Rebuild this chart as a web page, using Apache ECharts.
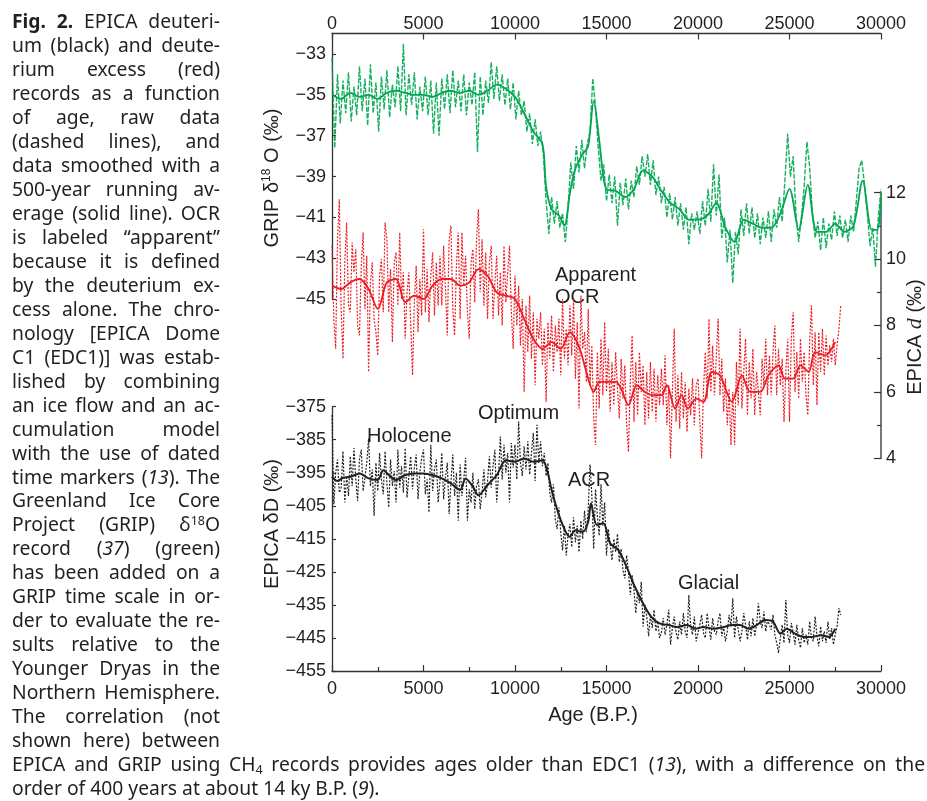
<!DOCTYPE html>
<html>
<head>
<meta charset="utf-8">
<script src="https://cdn.jsdelivr.net/npm/echarts@6/dist/echarts.min.js"></script>
<style>
  html, body { margin: 0; padding: 0; background: #fff; }
  #chart { width: 927px; height: 801px; }
</style>
</head>
<body>
<div id="chart"></div>
<script>
// ---- data ----

// GRIP d18O, raw record sampled every 150 yr from 0 to 30000
const GREEN_STEP = 150
const GREEN_RAW = [
  -33.2, -37.6, -34.0, -36.4, -34.3, -35.9, -33.9, -36.3, -34.6, -36.0,
  -33.6, -35.8, -34.2, -36.5, -33.5, -35.9, -34.4, -36.8, -34.1, -35.7,
  -33.8, -36.1, -34.5, -35.6, -33.6, -35.8, -32.5, -36.0, -34.0, -35.5,
  -33.9, -36.2, -34.6, -35.8, -34.1, -36.0, -34.3, -36.9, -34.4, -37.0,
  -34.2, -35.7, -34.0, -35.9, -33.8, -35.6, -34.3, -35.8, -34.0, -36.0,
  -34.4, -35.5, -33.9, -37.8, -34.1, -36.0, -34.3, -35.4, -33.4, -35.2,
  -33.6, -35.3, -34.0, -35.5, -34.2, -35.7, -34.4, -36.2, -34.8, -36.0,
  -35.3, -36.8, -35.9, -37.4, -36.2, -37.5, -36.8, -37.9, -40.2, -41.8,
  -40.0, -41.3, -40.2, -41.5, -40.8, -42.2, -40.5, -38.3, -39.6, -37.5,
  -38.8, -37.2, -38.6, -37.4, -36.8, -34.2, -35.6, -37.6, -39.2, -38.4,
  -40.2, -38.9, -40.3, -39.0, -41.4, -39.3, -40.4, -39.1, -40.6, -39.2,
  -40.0, -38.5, -39.4, -38.0, -39.0, -37.9, -39.4, -38.2, -39.9, -39.0,
  -40.3, -39.5, -41.0, -39.8, -41.1, -40.0, -41.4, -40.3, -41.6, -40.5,
  -42.3, -40.8, -41.6, -40.7, -41.8, -40.2, -41.4, -39.6, -41.2, -38.4,
  -40.9, -38.9, -42.0, -41.0, -43.2, -41.6, -44.2, -41.7, -42.8, -40.6,
  -41.9, -40.3, -41.8, -40.5, -42.0, -40.8, -42.3, -41.0, -42.0, -40.7,
  -42.2, -40.6, -41.5, -40.0, -41.2, -39.2, -36.9, -39.0, -38.0, -40.8,
  -42.2, -41.0, -39.5, -37.3, -38.5, -40.8, -42.0, -41.2, -42.6, -41.0,
  -42.5, -41.3, -42.1, -40.7, -41.9, -40.9, -42.0, -41.1, -42.2, -40.9,
  -41.7, -40.2, -38.6, -38.2, -39.4, -40.8, -42.4, -41.5, -43.4, -41.0,
  -39.6
]
// GRIP 500-yr running mean [age, value]
const GREEN_SMOOTH = [
  [0, -35.0], [500, -35.2], [1000, -34.9], [1500, -35.1], [2000, -35.0], [2500, -35.2],
  [3000, -34.9], [3500, -34.8], [4000, -34.9], [4500, -35.0], [5000, -35.0], [5500, -35.1],
  [6000, -34.9], [6500, -34.8], [7000, -34.9], [7500, -34.8], [8000, -35.0], [8500, -34.8],
  [9000, -34.5], [9500, -34.7], [10000, -35.1], [10500, -35.9], [11000, -36.8], [11500, -37.4],
  [11700, -39.5], [12000, -40.6], [12400, -40.9], [12700, -41.4], [13000, -39.8], [13300, -38.6],
  [13700, -37.9], [14000, -37.5], [14300, -35.3], [14600, -37.2], [14800, -38.8], [15000, -39.6],
  [15500, -39.7], [16000, -40.0], [16500, -39.6], [17000, -38.7], [17500, -39.0], [18000, -39.7],
  [18500, -40.3], [19000, -40.6], [19500, -41.1], [20000, -41.1], [20500, -40.9], [21000, -40.3],
  [21500, -41.5], [22000, -42.2], [22500, -41.1], [23000, -41.3], [23500, -41.5], [24000, -41.5],
  [24500, -40.8], [25000, -39.6], [25500, -41.6], [26000, -39.4], [26500, -41.7], [27000, -41.7],
  [27500, -41.3], [28000, -41.7], [28500, -41.4], [29000, -39.2], [29500, -41.6], [29800, -41.6],
  [30000, -40.0]
]

// EPICA deuterium excess d, raw sampled every 100 yr from 0 to 27800
const RED_STEP = 100
const RED_RAW = [
  10.4, 8.2, 7.3, 10.6, 11.8, 8.5, 7.0, 9.9, 11.1, 8.6,
  8.4, 10.5, 9.6, 10.3, 8.0, 7.7, 9.8, 10.8, 8.5, 10.1,
  6.6, 9.3, 9.9, 8.2, 7.8, 7.1, 9.5, 10.0, 8.4, 11.1,
  10.6, 8.4, 9.7, 7.5, 9.9, 10.2, 8.6, 10.8, 8.8, 9.6,
  7.6, 9.0, 9.6, 8.1, 6.5, 8.7, 9.8, 7.8, 9.4, 8.3,
  10.9, 8.4, 9.7, 8.1, 9.5, 10.2, 8.3, 9.9, 8.6, 10.1,
  8.6, 10.4, 9.1, 7.7, 10.6, 11.0, 8.5, 7.7, 9.8, 10.8,
  8.2, 10.8, 9.2, 10.1, 8.4, 7.6, 9.9, 10.3, 8.7, 10.6,
  11.5, 9.0, 10.6, 8.6, 10.2, 8.2, 9.9, 10.4, 8.2, 9.3,
  10.1, 8.3, 9.6, 8.0, 10.4, 8.7, 9.6, 10.4, 8.4, 7.3,
  9.5, 8.0, 9.2, 7.4, 8.8, 6.0, 8.6, 7.2, 8.9, 7.0,
  8.4, 6.2, 8.2, 7.6, 8.4, 6.8, 7.9, 5.7, 8.1, 7.0,
  8.3, 6.6, 8.0, 7.2, 8.2, 6.5, 8.8, 7.0, 7.9, 6.8,
  8.6, 7.1, 8.8, 6.4, 8.1, 5.5, 8.9, 7.3, 7.8, 6.3,
  8.5, 6.2, 7.4, 5.2, 4.4, 7.2, 5.5, 7.6, 5.9, 8.1,
  6.0, 7.3, 5.4, 6.9, 5.6, 7.2, 6.1, 5.2, 7.0, 5.8,
  6.8, 5.0, 4.2, 6.3, 7.7, 5.1, 6.9, 5.3, 7.2, 6.0,
  6.8, 5.0, 6.6, 5.2, 6.9, 5.4, 6.7, 5.1, 6.5, 5.6,
  6.7, 5.6, 7.1, 5.0, 6.2, 4.0, 6.0, 7.9, 5.1, 6.5,
  4.9, 6.6, 5.2, 6.3, 4.8, 6.1, 5.3, 6.4, 5.0, 6.2,
  6.4, 5.1, 4.0, 6.1, 7.2, 5.8, 8.2, 6.0, 7.4, 5.9,
  7.1, 8.2, 5.9, 7.0, 5.4, 6.4, 5.0, 6.1, 4.4, 6.0,
  4.4, 6.9, 5.6, 7.9, 5.5, 6.6, 7.6, 5.3, 6.9, 5.8,
  7.3, 5.3, 6.6, 6.0, 5.3, 7.0, 6.2, 7.6, 5.9, 7.1,
  5.9, 7.2, 8.0, 5.9, 7.3, 6.2, 7.0, 5.1, 6.6, 7.6,
  5.1, 7.6, 8.4, 6.0, 7.2, 5.8, 7.6, 6.3, 7.2, 5.9,
  5.3, 7.5, 8.6, 6.2, 7.8, 5.6, 7.8, 6.6, 7.9, 6.5,
  7.7, 6.8, 7.4, 6.9, 7.6, 6.8, 7.4, 7.9, 8.6
]
const RED_SMOOTH = [
  [0, 9.2], [500, 9.1], [1000, 9.3], [1500, 9.4], [2000, 9.1], [2500, 8.5], [3000, 9.3],
  [3500, 9.4], [4000, 8.7], [4500, 8.9], [5000, 8.8], [5500, 9.2], [6000, 9.4], [6500, 9.4],
  [7000, 9.2], [7500, 9.3], [8000, 9.7], [8500, 9.5], [9000, 9.0], [9500, 8.9], [10000, 8.8],
  [10500, 8.2], [11000, 7.6], [11500, 7.3], [12000, 7.5], [12500, 7.3], [13000, 7.8], [13300, 7.6],
  [13600, 7.2], [13900, 6.6], [14300, 6.0], [14600, 6.3], [14900, 6.3], [15500, 6.3], [15800, 6.1],
  [16200, 5.6], [16650, 6.2], [17100, 6.0], [17550, 5.9], [18000, 5.9], [18300, 6.2], [18750, 5.5],
  [19100, 5.9], [19450, 5.5], [19900, 5.8], [20300, 5.7], [20750, 6.6], [21200, 6.5], [21850, 5.7],
  [22400, 6.5], [22850, 6.0], [23400, 6.0], [23850, 6.5], [24400, 6.8], [24750, 6.4], [25200, 6.4],
  [25600, 6.8], [26050, 6.6], [26400, 7.2], [26950, 7.1], [27500, 7.5]
]

// EPICA deuterium dD, raw sampled every 100 yr from 0 to 27800
const BLACK_STEP = 100
const BLACK_RAW = [
  -377.5, -404.5, -395.0, -391.0, -401.0, -399.5, -388.5, -404.0, -396.0, -402.0,
  -390.0, -399.0, -387.5, -397.0, -403.5, -391.0, -388.0, -400.5, -396.5, -392.0,
  -384.6, -399.0, -394.0, -408.0, -392.0, -400.5, -389.0, -397.0, -401.5, -388.5,
  -398.0, -405.5, -391.0, -399.0, -394.5, -404.0, -388.0, -399.5, -393.0, -401.0,
  -387.5, -402.5, -396.0, -390.0, -400.0, -393.5, -389.5, -403.0, -395.0, -390.5,
  -388.0, -401.5, -397.0, -407.0, -386.5, -400.5, -394.0, -391.0, -404.0, -397.5,
  -389.0, -403.0, -396.5, -392.0, -407.5, -398.0, -389.5, -402.0, -395.0, -409.5,
  -392.5, -402.0, -397.0, -390.5, -409.5, -400.0, -404.0, -395.0, -406.0, -399.0,
  -397.0, -406.0, -401.0, -394.0, -402.5, -397.5, -390.0, -399.5, -393.0, -388.0,
  -404.0, -395.5, -384.0, -397.0, -386.5, -395.0, -389.0, -404.0, -386.0, -393.5,
  -386.5, -397.0, -379.5, -392.0, -396.0, -387.0, -394.0, -385.5, -395.5, -389.0,
  -383.0, -397.5, -380.5, -392.0, -385.5, -393.0, -389.0, -396.0, -392.0, -401.0,
  -404.0, -398.5, -409.0, -412.0, -405.5, -413.0, -418.5, -411.0, -420.0, -414.0,
  -410.5, -417.5, -408.5, -416.0, -411.0, -419.0, -409.5, -415.0, -406.5, -413.0,
  -406.0, -392.5, -402.0, -418.0, -400.0, -408.0, -414.0, -398.5, -411.0, -404.0,
  -420.0, -412.0, -416.5, -421.5, -415.0, -419.0, -413.5, -422.0, -418.0, -424.5,
  -427.0, -420.0, -425.0, -432.0, -426.0, -430.5, -437.5, -431.0, -434.5, -428.0,
  -441.5, -435.0, -438.5, -444.5, -438.0, -442.0, -436.5, -443.0, -440.0, -445.0,
  -443.5, -439.0, -444.0, -441.0, -436.5, -447.0, -442.0, -438.5, -443.5, -445.5,
  -440.0, -444.0, -437.5, -443.0, -445.0, -432.0, -441.5, -444.0, -438.5, -446.0,
  -446.0, -441.0, -438.0, -443.5, -445.0, -437.5, -442.0, -445.5, -439.0, -443.0,
  -444.0, -440.0, -437.5, -444.5, -441.5, -446.0, -443.0, -438.0, -441.5, -433.0,
  -445.0, -438.5, -442.5, -446.0, -443.0, -437.5, -441.0, -445.5, -440.0, -444.5,
  -439.0, -444.5, -441.0, -434.5, -440.0, -442.0, -437.0, -443.0, -439.5, -441.0,
  -442.5, -438.0, -444.0, -446.5, -449.5, -445.0, -441.0, -446.5, -433.5, -444.0,
  -446.5, -440.5, -443.5, -447.0, -441.0, -445.5, -448.0, -442.0, -446.5, -444.0,
  -447.0, -440.0, -445.0, -446.0, -438.5, -444.5, -447.5, -441.5, -446.0, -443.0,
  -446.5, -440.0, -445.5, -442.0, -447.0, -444.0, -441.5, -436.0, -438.0
]
const BLACK_SMOOTH = [
  [0, -396.2], [300, -397.5], [600, -396.5], [1000, -396.2], [1500, -395.2], [2000, -396.7],
  [2500, -397.2], [2800, -394.2], [3200, -396.2], [3500, -397.2], [4000, -395.7], [4500, -395.2],
  [5000, -395.2], [5500, -395.7], [6000, -396.7], [6500, -398.2], [7000, -400.2], [7300, -396.7],
  [7700, -399.2], [8000, -401.8], [8500, -398.7], [9000, -395.7], [9500, -391.2], [10000, -391.7],
  [10500, -390.7], [11000, -391.7], [11500, -391.2], [11800, -395.2], [12000, -400.2], [12500, -409.3],
  [13000, -414.4], [13300, -412.4], [13700, -412.9], [14000, -409.8], [14150, -404.3], [14470, -410.8],
  [14830, -410.3], [15200, -416.4], [15650, -418.4], [16100, -423.5], [16550, -429.5], [17000, -434.6],
  [17450, -438.6], [17900, -440.6], [18400, -441.1], [18850, -441.7], [19400, -441.1], [19850, -442.2],
  [20300, -441.7], [20850, -442.2], [21400, -441.7], [21850, -441.1], [22300, -441.1], [22750, -442.2],
  [23200, -441.1], [23650, -439.6], [24100, -440.1], [24500, -443.7], [24850, -442.2], [25300, -443.7],
  [25750, -444.7], [26200, -444.7], [26700, -444.2], [27150, -444.7], [27500, -442.2]
]

const GREEN_TICKS = [-45, -43, -41, -39, -37, -35, -33]

// caption, one entry per printed line (** bold, * italic, ^sup^, _sub_)
const CAPTION_LINES = [
  '**Fig.** **2.** EPICA deuteri-',
  'um (black) and deute-',
  'rium excess (red)',
  'records as a function',
  'of age, raw data',
  '(dashed lines), and',
  'data smoothed with a',
  '500-year running av-',
  'erage (solid line). OCR',
  'is labeled \u201capparent\u201d',
  'because it is defined',
  'by the deuterium ex-',
  'cess alone. The chro-',
  'nology [EPICA Dome',
  'C1 (EDC1)] was estab-',
  'lished by combining',
  'an ice flow and an ac-',
  'cumulation model',
  'with the use of dated',
  'time markers (*13*). The',
  'Greenland Ice Core',
  'Project (GRIP) \u03b4^18^O',
  'record (*37*) (green)',
  'has been added on a',
  'GRIP time scale in or-',
  'der to evaluate the re-',
  'sults relative to the',
  'Younger Dryas in the',
  'Northern Hemisphere.',
  'The correlation (not',
  'shown here) between',
  'EPICA and GRIP using CH_4_ records provides ages older than EDC1 (*13*), with a difference on the',
  'order of 400 years at about 14 ky B.P. (*9*).'
]

// ---- styling ----
const INK = '#231f20'
const GREEN = '#00a651'
const RED = '#ed1c24'
const AX_FONT = '"Liberation Sans", Arial, sans-serif'
const CAP_FONT = '"Noto Sans", sans-serif'
const CAP_SIZE = 19.3

const minus = v => String(v).replace('-', '\u2212')

// caption layout: words justified between x0 and x1
const measureCtx = document.createElement('canvas').getContext('2d')
const runFont = r => `${r.italic ? 'italic ' : ''}${r.bold ? 'bold ' : ''}${r.size}px ${CAP_FONT}`

function parseWord(w) {
  return w.split(/(\*\*[^*]+\*\*|\*[^*]+\*|\^[^^]+\^|_[^_]+_)/).filter(Boolean).map(p => {
    if (p.startsWith('**')) return { t: p.slice(2, -2), bold: true, size: CAP_SIZE, dy: 0 }
    if (p.startsWith('*')) return { t: p.slice(1, -1), italic: true, size: CAP_SIZE, dy: 0 }
    if (p.startsWith('^')) return { t: p.slice(1, -1), size: 12.5, dy: -5 }
    if (p.startsWith('_')) return { t: p.slice(1, -1), size: 12.5, dy: 5 }
    return { t: p, size: CAP_SIZE, dy: 0 }
  })
}

function captionLine(text, y, x0, x1, justify) {
  const words = text.split(' ').map(parseWord)
  let total = 0
  words.forEach(runs => runs.forEach(r => {
    measureCtx.font = runFont(r)
    r.w = measureCtx.measureText(r.t).width
    total += r.w
  }))
  measureCtx.font = `${CAP_SIZE}px ${CAP_FONT}`
  let gap = measureCtx.measureText(' ').width
  if (justify && words.length > 1) gap = Math.max(2, (x1 - x0 - total) / (words.length - 1))
  const els = []
  let x = x0
  words.forEach(runs => {
    runs.forEach(r => {
      els.push({
        type: 'text', x: x, y: y + r.dy, silent: true,
        style: { text: r.t, font: runFont(r), fill: INK, textAlign: 'left', textVerticalAlign: 'middle', align: 'left', verticalAlign: 'middle' }
      })
      x += r.w
    })
    x += gap
  })
  return els
}

const captionEls = []
CAPTION_LINES.forEach((line, i) => {
  const y = 23 + i * 23.95
  const last = i === CAPTION_LINES.length - 1
  captionEls.push(...captionLine(line, y, 12, i >= 31 ? 925 : 220, !last))
})

function label(text, x, y, opts) {
  return Object.assign({
    type: 'text', x: x, y: y, silent: true,
    style: Object.assign({
      text: text, fill: INK, fontSize: 20, fontFamily: AX_FONT,
      textAlign: 'left', textVerticalAlign: 'middle', align: 'left', verticalAlign: 'middle'
    }, opts && opts.style)
  }, opts && opts.el)
}

const supRich = {
  sup: { fontSize: 12, fontFamily: AX_FONT, fill: INK, verticalAlign: 'top', lineHeight: 22 },
  it: { fontSize: 22, fontFamily: '"Liberation Serif", serif', fontStyle: 'italic', fill: INK, lineHeight: 22 }
}

const annotationEls = [
  label('Apparent', 555, 275),
  label('OCR', 555, 297),
  label('Optimum', 478, 413),
  label('Holocene', 367, 436),
  label('ACR', 568, 480),
  label('Glacial', 678, 583),
  label('Age (B.P.)', 593, 715, { style: { textAlign: 'center', align: 'center' } }),
  label('GRIP \u03b4{sup|18} O (\u2030)', 272, 178, {
    el: { rotation: Math.PI / 2 },
    style: { textAlign: 'center', align: 'center', rich: supRich, lineHeight: 22 }
  }),
  label('EPICA \u03b4D (\u2030)', 272, 524, {
    el: { rotation: Math.PI / 2 },
    style: { textAlign: 'center', align: 'center' }
  }),
  label('EPICA {it|d} (\u2030)', 915, 337, {
    el: { rotation: Math.PI / 2 },
    style: { textAlign: 'center', align: 'center', rich: supRich, lineHeight: 22 }
  })
]

const axisText = { color: INK, fontSize: 18, fontFamily: AX_FONT, formatter: minus }
const axisLine = { show: true, onZero: false, lineStyle: { color: '#333', width: 1.3 } }
const tickStyle = { color: '#333', width: 1.2 }

const chart = echarts.init(document.getElementById('chart'))
chart.setOption({
  animation: false,
  backgroundColor: '#fff',
  grid: [
    { left: 332, top: 33.5, width: 549, height: 265.8 },
    { left: 332, top: 192.7, width: 549, height: 265.6 },
    { left: 332, top: 406.7, width: 549, height: 264.3 }
  ],
  xAxis: [
    {
      gridIndex: 0, type: 'value', position: 'top', min: 0, max: 30000, interval: 5000,
      axisLine: axisLine, splitLine: { show: false },
      axisTick: { inside: true, length: 6, lineStyle: tickStyle },
      axisLabel: Object.assign({}, axisText, { margin: 0 })
    },
    { gridIndex: 1, type: 'value', min: 0, max: 30000, show: false },
    {
      gridIndex: 2, type: 'value', position: 'bottom', min: 0, max: 30000, interval: 5000,
      axisLine: axisLine, splitLine: { show: false },
      axisTick: { inside: true, length: 6, lineStyle: tickStyle },
      minorTick: { show: true, splitNumber: 2, length: 4, lineStyle: tickStyle },
      axisLabel: Object.assign({}, axisText, { margin: 9 })
    }
  ],
  yAxis: [
    {
      gridIndex: 0, type: 'value', position: 'left', min: -45, max: -32,
      axisLine: axisLine, splitLine: { show: false },
      axisTick: { inside: true, length: 4, customValues: GREEN_TICKS, lineStyle: tickStyle },
      axisLabel: Object.assign({}, axisText, { margin: 6, customValues: GREEN_TICKS })
    },
    {
      gridIndex: 1, type: 'value', position: 'right', min: 4, max: 12, interval: 2,
      axisLine: { show: true, onZero: false, lineStyle: { color: '#777', width: 2 } },
      splitLine: { show: false },
      axisTick: { inside: true, length: 7, lineStyle: tickStyle },
      minorTick: { show: true, splitNumber: 2, length: 4, lineStyle: tickStyle },
      axisLabel: Object.assign({}, axisText, { margin: 5 })
    },
    {
      gridIndex: 2, type: 'value', position: 'left', min: -455, max: -375, interval: 10,
      axisLine: axisLine, splitLine: { show: false },
      axisTick: { inside: true, length: 4, lineStyle: tickStyle },
      axisLabel: Object.assign({}, axisText, { margin: 6 })
    }
  ],
  series: [
    {
      name: 'GRIP raw', type: 'line', xAxisIndex: 0, yAxisIndex: 0, showSymbol: false, z: 2,
      data: GREEN_RAW.map((v, i) => [i * GREEN_STEP, v]),
      lineStyle: { color: GREEN, width: 1.4, type: [5, 1.5], opacity: 0.9 }
    },
    {
      name: 'GRIP smooth', type: 'line', xAxisIndex: 0, yAxisIndex: 0, showSymbol: false, z: 3,
      data: GREEN_SMOOTH, smooth: 0.3,
      lineStyle: { color: GREEN, width: 1.8 }
    },
    {
      name: 'EPICA d raw', type: 'line', xAxisIndex: 1, yAxisIndex: 1, showSymbol: false, z: 2,
      data: RED_RAW.map((v, i) => [i * RED_STEP, v]),
      lineStyle: { color: RED, width: 1.2, type: [2, 1.5], opacity: 1 }
    },
    {
      name: 'EPICA d smooth', type: 'line', xAxisIndex: 1, yAxisIndex: 1, showSymbol: false, z: 3,
      data: RED_SMOOTH, smooth: 0.3,
      lineStyle: { color: RED, width: 1.8 }
    },
    {
      name: 'EPICA dD raw', type: 'line', xAxisIndex: 2, yAxisIndex: 2, showSymbol: false, z: 2,
      data: BLACK_RAW.map((v, i) => [i * BLACK_STEP, v]),
      lineStyle: { color: INK, width: 1.2, type: [2, 1.5], opacity: 1 }
    },
    {
      name: 'EPICA dD smooth', type: 'line', xAxisIndex: 2, yAxisIndex: 2, showSymbol: false, z: 3,
      data: BLACK_SMOOTH, smooth: 0.3,
      lineStyle: { color: INK, width: 2 }
    }
  ],
  graphic: captionEls.concat(annotationEls)
})
</script>
</body>
</html>
